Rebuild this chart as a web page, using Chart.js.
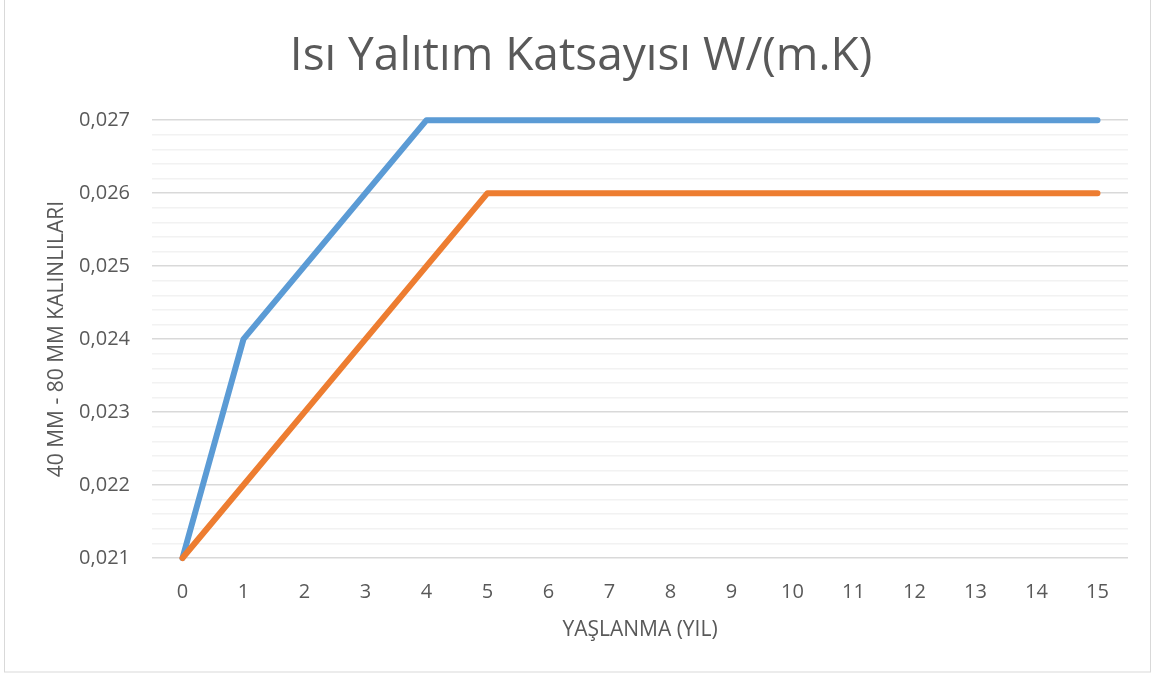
<!DOCTYPE html>
<html>
<head>
<meta charset="utf-8">
<script src="https://cdn.jsdelivr.net/npm/chart.js@4"></script>
<style>
  html, body { margin: 0; padding: 0; background: #fff; }
  #wrap { width: 1153px; height: 673px; position: relative; }
</style>
</head>
<body>
<div id="wrap"><canvas id="chart"></canvas></div>
<script>
// Aging years on the x axis
const years = ['0', '1', '2', '3', '4', '5', '6', '7', '8', '9', '10', '11', '12', '13', '14', '15'];

// Thermal conductivity per year
const blueValues = [0.021, 0.024, 0.025, 0.026, 0.027, 0.027, 0.027, 0.027, 0.027, 0.027, 0.027, 0.027, 0.027, 0.027, 0.027, 0.027];
const orangeValues = [0.021, 0.022, 0.023, 0.024, 0.025, 0.026, 0.026, 0.026, 0.026, 0.026, 0.026, 0.026, 0.026, 0.026, 0.026, 0.026];

const yMin = 0.021;
const yMax = 0.027;
const minorStep = 0.0002;

const TEXT = '#595959';
const FONT = "'Open Sans', 'Noto Sans', sans-serif";

// light frame around the whole chart, like the office export
const framePlugin = {
  id: 'frame',
  afterDraw(chart) {
    const c = chart.ctx;
    c.save();
    c.strokeStyle = '#d9d9d9';
    c.lineWidth = 1;
    c.strokeRect(4.5, -1, 1146, 673);
    c.restore();
  },
};

const ctx = document.getElementById('chart').getContext('2d');
new Chart(ctx, {
  type: 'line',
  data: {
    labels: years,
    datasets: [
      {
        label: 'Seri 2',
        data: orangeValues,
        borderColor: '#ED7D31',
        backgroundColor: '#ED7D31',
        borderWidth: 6,
        borderCapStyle: 'round',
        borderJoinStyle: 'round',
        pointRadius: 0,
        tension: 0,
        clip: false,
        order: 0,
      },
      {
        label: 'Seri 1',
        data: blueValues,
        borderColor: '#5B9BD5',
        backgroundColor: '#5B9BD5',
        borderWidth: 6,
        borderCapStyle: 'round',
        borderJoinStyle: 'round',
        pointRadius: 0,
        tension: 0,
        clip: false,
        order: 1,
      },
    ],
  },
  options: {
    responsive: true,
    maintainAspectRatio: false,
    animation: false,
    layout: { padding: { left: 34, right: 25, top: 0, bottom: 0 } },
    plugins: {
      legend: { display: false },
      tooltip: { enabled: false },
      title: {
        display: true,
        text: 'Isı Yalıtım Katsayısı W/(m.K)',
        color: TEXT,
        font: { family: FONT, size: 46, weight: 'normal' },
        padding: { top: 29, bottom: 36 },
      },
    },
    scales: {
      x: {
        offset: true,
        afterFit: s => { s.height = 115; },
        grid: { display: false, drawTicks: false },
        border: { display: false },
        ticks: {
          color: TEXT,
          font: { family: FONT, size: 20 },
          padding: 22,
          maxRotation: 0,
        },
        title: {
          display: true,
          text: 'YAŞLANMA (YIL)',
          color: TEXT,
          font: { family: FONT, size: 21 },
          padding: { top: 0, bottom: 30 },
        },
      },
      y: {
        min: yMin,
        max: yMax,
        afterFit: s => { s.width = 118; },
        border: { display: false },
        grid: {
          drawTicks: false,
          color: c => (c.index % 5 === 0 ? '#d9d9d9' : '#f2f2f2'),
          lineWidth: 1.5,
        },
        ticks: {
          stepSize: minorStep,
          autoSkip: false,
          color: TEXT,
          font: { family: FONT, size: 20 },
          padding: 22,
          callback: (v, i) => (i % 5 === 0 ? v.toFixed(3).replace('.', ',') : ''),
        },
        title: {
          display: true,
          text: '40 MM - 80 MM KALINLILARI',
          color: TEXT,
          font: { family: FONT, size: 21 },
          padding: { top: 10, bottom: 0 },
        },
      },
    },
  },
  plugins: [framePlugin],
});
</script>
</body>
</html>
